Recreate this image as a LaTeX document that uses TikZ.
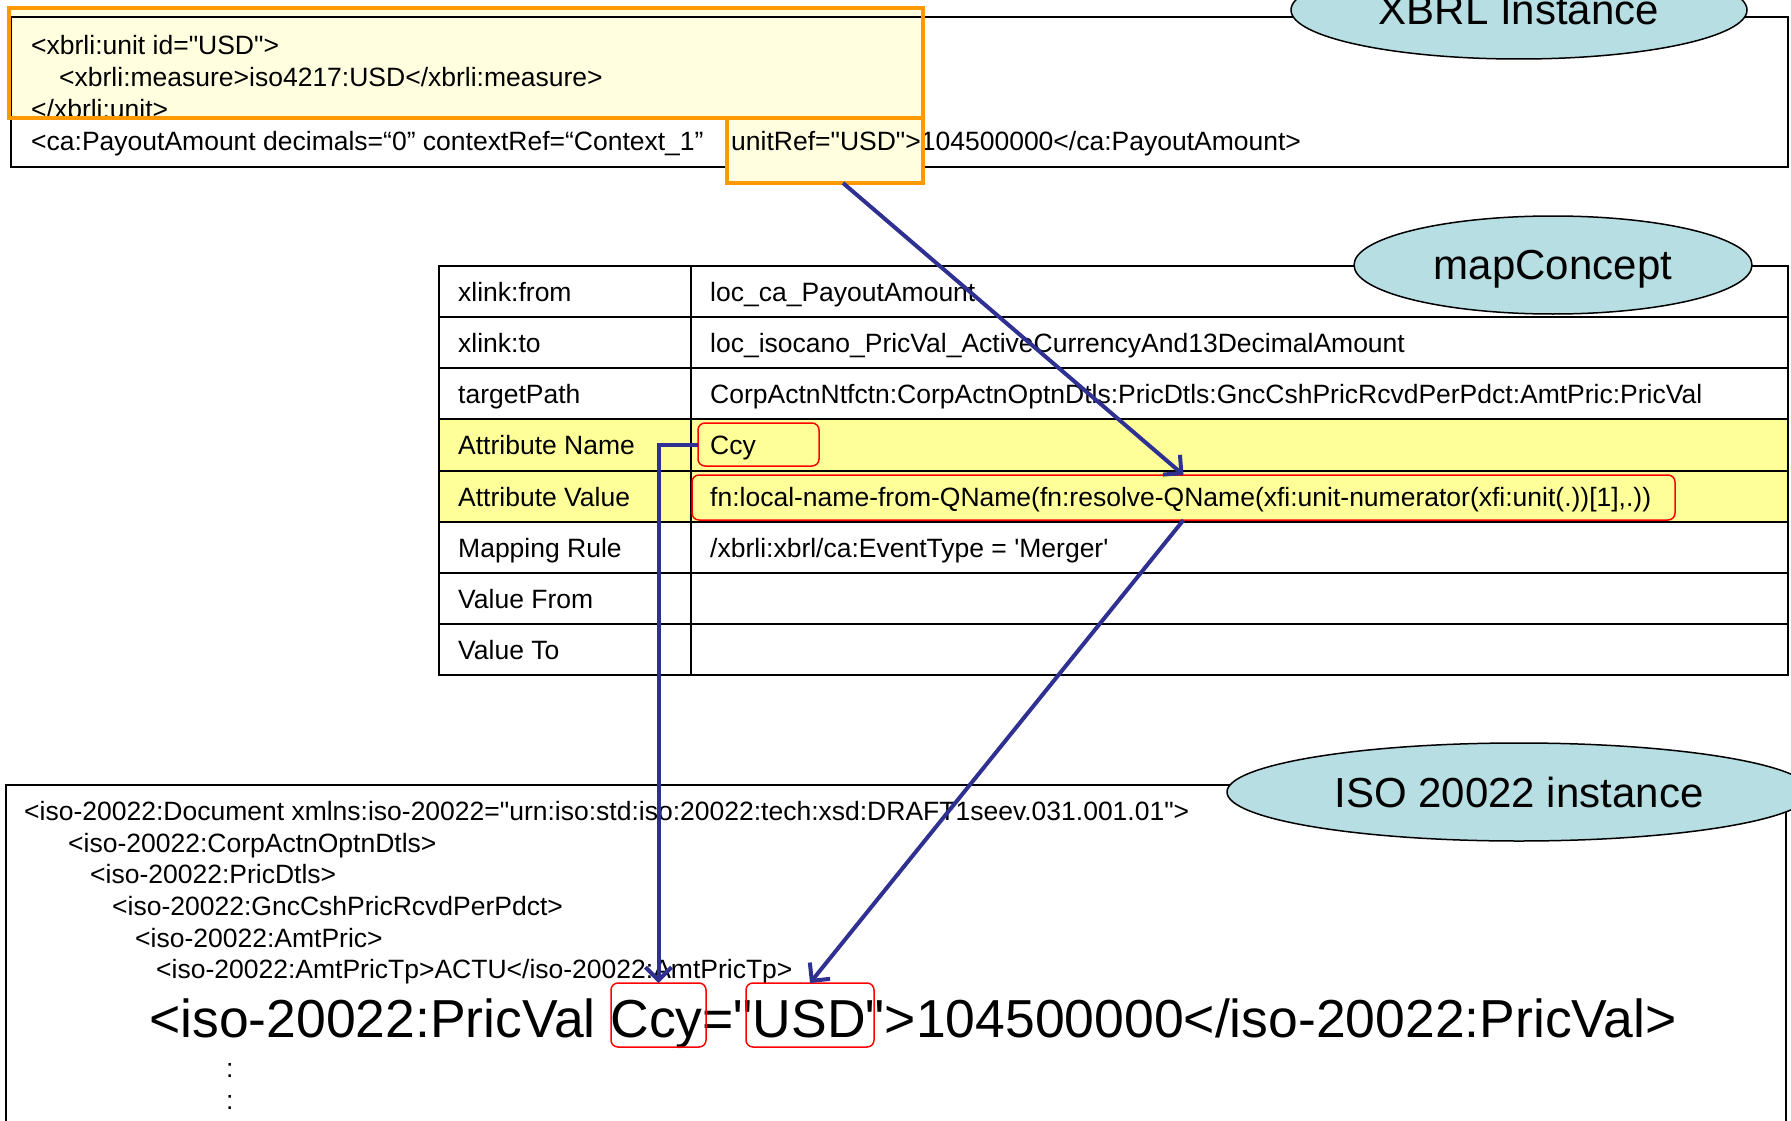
\documentclass[tikz,border=0pt]{standalone}
\usepackage{fontspec}
\setmainfont{Liberation Sans}[Ligatures=TeXOff]
\usepackage{tikz}
\usetikzlibrary{shapes.geometric, calc, arrows.meta, positioning}
\definecolor{ovalfill}{RGB}{183,222,227}
\definecolor{rowyellow}{RGB}{255,255,153}
\definecolor{paleyellow}{RGB}{255,255,224}
\definecolor{unitorange}{RGB}{255,153,0}
\definecolor{arrowblue}{RGB}{46,49,146}

\begin{document}
\begin{tikzpicture}[
  x=1pt, y=-1pt,
  codetext/.style={anchor=base west, inner sep=0pt, font=\fontsize{26.5}{32}\selectfont},
  bigtext/.style={anchor=base west, inner sep=0pt, font=\fontsize{53.5}{60}\selectfont},
  titleoval/.style={ellipse, draw, line width=1.5pt, fill=ovalfill, minimum height=98pt, inner sep=0pt, text depth=0pt, font=\fontsize{42}{50}\selectfont},
  unitfill/.style={fill=paleyellow, inner sep=0pt, outer sep=0pt},
  orangeline/.style={draw=unitorange, line width=4pt},
  boxline/.style={draw=black, line width=2pt},
  tableline/.style={draw=black, line width=2.5pt},
  redbox/.style={draw=red, line width=1.5pt, rounded corners=7pt, inner sep=0pt, outer sep=0pt},
  maparrow/.style={-{Straight Barb[length=13pt, width=26pt]}, line width=4pt, arrowblue}
]
\useasboundingbox (0,0) rectangle (1791,1121);
\clip (0,0) rectangle (1791,1121);

% XBRL instance (unit definition highlighted in orange)
\node[unitfill, minimum width=914pt, minimum height=110pt] (unitbox) at (466,63) {};
\draw[boxline] (11,17) rectangle (1788,167);
\node[unitfill, minimum width=196pt, minimum height=65pt] (unitref) at (825,150.5) {};

\node[codetext] (unit1) at (31,55) {<xbrli:unit id="USD">};
\node[codetext] (unit2) at (59,87) {<xbrli:measure>iso4217:USD</xbrli:measure>};
\node[codetext] (unit3) at (31,119) {</xbrli:unit>};
\node[codetext] (payout1) at (31,150) {<ca:PayoutAmount decimals=“0” contextRef=“Context\_1”};
\node[codetext] (payout2) at (731,150) {unitRef="USD">104500000</ca:PayoutAmount>};

\draw[orangeline] (unitbox.south west) rectangle (unitbox.north east);
\draw[orangeline] (unitref.south west) rectangle (unitref.north east);

\node[titleoval, minimum width=456pt] (xbrlname) at (1519,10) {XBRL Instance};

% mapConcept table
\fill[rowyellow] (439,419) rectangle (1788,522);
\draw[tableline] (439,266) rectangle (1788,675);
\draw[tableline] (691,266) -- (691,675);
\draw[tableline] (439,317) -- (1788,317) (439,368) -- (1788,368)
  (439,419) -- (1788,419) (439,471) -- (1788,471) (439,522) -- (1788,522)
  (439,573) -- (1788,573) (439,624) -- (1788,624);

\node[titleoval, minimum width=398pt] (mapname) at (1553,265) {mapConcept};

\node[codetext] (lfrom) at (458,301) {xlink:from};
\node[codetext] (lto) at (458,352) {xlink:to};
\node[codetext] (lpath) at (458,403) {targetPath};
\node[codetext] (lattrname) at (458,454) {Attribute Name};
\node[codetext] (lattrval) at (458,506) {Attribute Value};
\node[codetext] (lrule) at (458,557) {Mapping Rule};
\node[codetext] (lvfrom) at (458,608) {Value From};
\node[codetext] (lvto) at (458,659) {Value To};

\node[codetext] (vfrom) at (710,301) {loc\_ca\_PayoutAmount};
\node[codetext] (vto) at (710,352) {loc\_isocano\_PricVal\_ActiveCurrencyAnd13DecimalAmount};
\node[codetext] (vpath) at (710,403) {CorpActnNtfctn:CorpActnOptnDtls:PricDtls:GncCshPricRcvdPerPdct:AmtPric:PricVal};
\node[codetext] (vattrname) at (710,454) {Ccy};
\node[codetext] (vattrval) at (710,506) {fn:local-name-from-QName(fn:resolve-QName(xfi:unit-numerator(xfi:unit(.))[1],.))};
\node[codetext] (vrule) at (710,557) {/xbrli:xbrl/ca:EventType = 'Merger'};

\node[redbox, minimum width=121pt, minimum height=43pt] (ccyname) at (758.5,444.5) {};
\node[redbox, minimum width=983pt, minimum height=45pt] (attrval) at (1183.5,497.5) {};

% ISO 20022 instance
\draw[boxline] (6,1130) |- (1786,785) -- (1786,1130);
\node[titleoval, minimum width=584pt] (isoname) at (1519,792) {ISO 20022 instance};

\node[codetext] (iso1) at (24,820) {<iso-20022:Document xmlns:iso-20022="urn:iso:std:iso:20022:tech:xsd:DRAFT1seev.031.001.01">};
\node[codetext] (iso2) at (68,852) {<iso-20022:CorpActnOptnDtls>};
\node[codetext] (iso3) at (90,883) {<iso-20022:PricDtls>};
\node[codetext] (iso4) at (112,915) {<iso-20022:GncCshPricRcvdPerPdct>};
\node[codetext] (iso5) at (135,947) {<iso-20022:AmtPric>};
\node[codetext] (iso6) at (156,978) {<iso-20022:AmtPricTp>ACTU</iso-20022:AmtPricTp>};
\node[bigtext] (pricval) at (149,1037) {<iso-20022:PricVal Ccy="USD">104500000</iso-20022:PricVal>};
\node[codetext] (dots1) at (226,1077) {:};
\node[codetext] (dots2) at (226,1109) {:};

\node[redbox, minimum width=95pt, minimum height=64pt] (ccybig) at (658.5,1015) {};
\node[redbox, minimum width=128pt, minimum height=64pt] (usdbig) at (810,1015) {};

% Mapping arrows
\draw[maparrow] ([xshift=18pt]unitref.south) -- (attrval.north);
\draw[maparrow] (attrval.south) -- (usdbig.north);
\draw[maparrow] (ccyname.west) -| (ccybig.north);

\end{tikzpicture}
\end{document}
